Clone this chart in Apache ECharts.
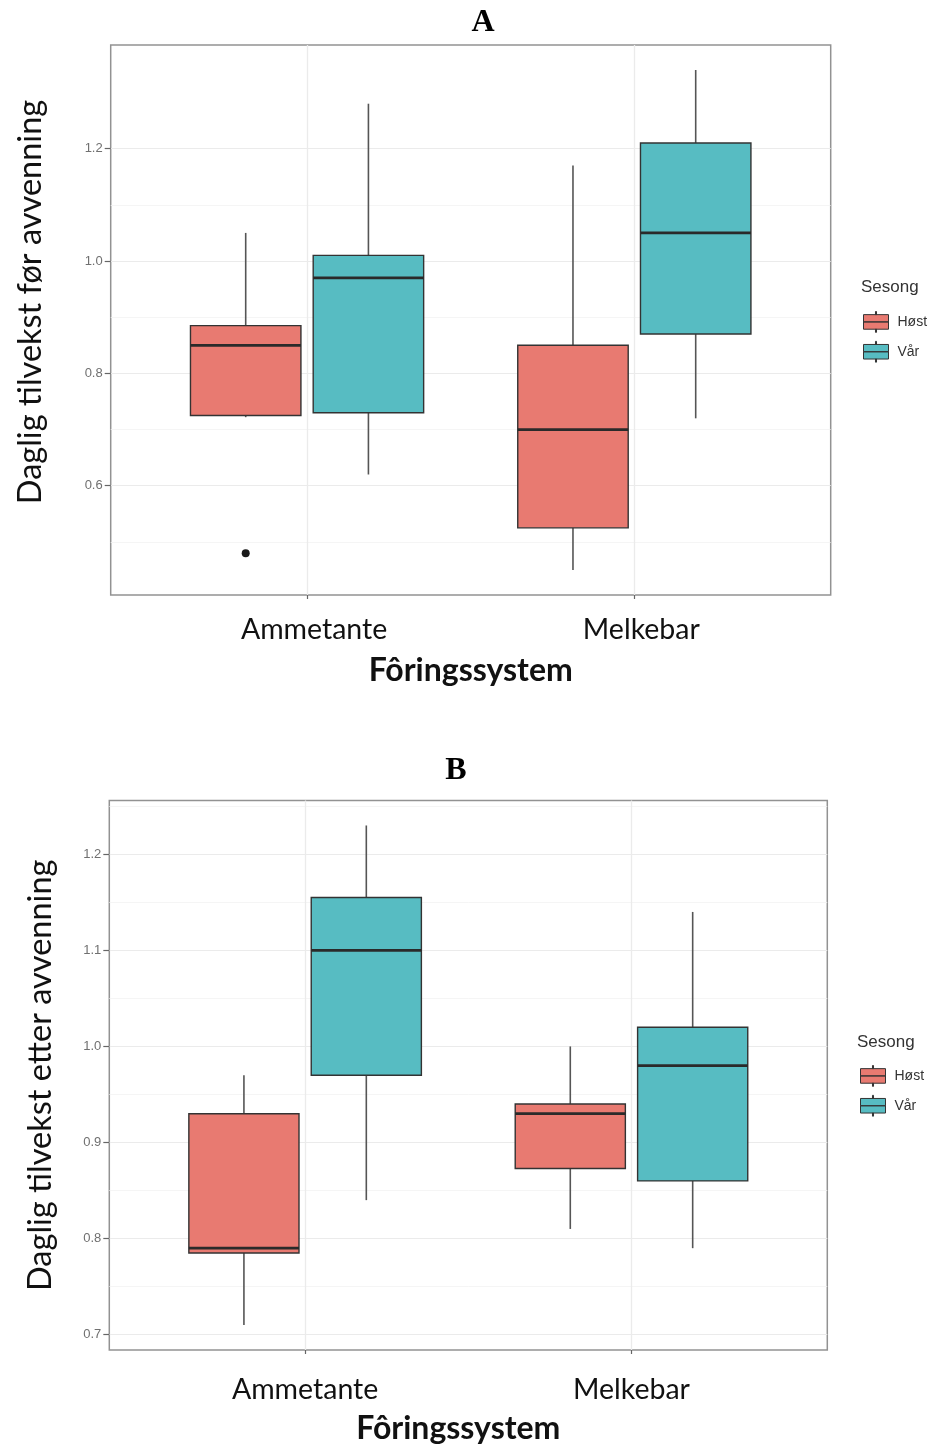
<!DOCTYPE html>
<html><head><meta charset="utf-8">
<script src="https://cdn.jsdelivr.net/npm/echarts@6/dist/echarts.min.js"></script>
<style>html,body{margin:0;padding:0;background:#fff}#c{width:937px;height:1447px}</style>
</head><body><div id="c"></div>
<script>
// ---- data ----
const categories = ['Ammetante', 'Melkebar'];
const seasons = ['Høst', 'Vår'];
// each row: [lower whisker, Q1, median, Q3, upper whisker]
const aHost = [[0.722, 0.725, 0.85, 0.885, 1.05], [0.45, 0.525, 0.70, 0.85, 1.17]];
const aVar  = [[0.62, 0.73, 0.97, 1.01, 1.28], [0.72, 0.87, 1.05, 1.21, 1.34]];
const aHostOutliers = [[0, 0.48]];   // [category index, value]
const bHost = [[0.71, 0.785, 0.79, 0.93, 0.97], [0.81, 0.873, 0.93, 0.94, 1.00]];
const bVar  = [[0.84, 0.97, 1.10, 1.155, 1.23], [0.79, 0.86, 0.98, 1.02, 1.14]];
const aYTicks = [0.6, 0.8, 1.0, 1.2];
const bYTicks = [0.7, 0.8, 0.9, 1.0, 1.1, 1.2];
const aYTitle = 'Daglig tilvekst før avvenning';
const bYTitle = 'Daglig tilvekst etter avvenning';
const xTitle = 'Fôringssystem';
const legendTitle = 'Sesong';

// ---- style ----
const COL = { 'Høst': '#E87A71', 'Vår': '#57BCC2' };
const GRID_COL = '#ebebeb';
const FONT = 'Lato';

function ext(rows, extra) {
  const vals = [];
  rows.forEach(r => r.forEach(v => vals.push(v)));
  (extra || []).forEach(p => vals.push(p[1]));
  const lo = Math.min(...vals), hi = Math.max(...vals), r = hi - lo;
  return [lo - 0.05 * r, hi + 0.05 * r];
}
const aExt = ext(aHost.concat(aVar), aHostOutliers);
const bExt = ext(bHost.concat(bVar), []);

// panel frames (plot area)
const frames = [
  { left: 110.7, top: 45, width: 720, height: 550 },
  { left: 109.3, top: 800.5, width: 718, height: 549.5 }
];
function boxGrid(f) {
  const unit = f.width / 2.2;
  return { left: f.left + 0.1 * unit, top: f.top, width: 2 * unit, height: f.height };
}

function boxRenderer(offset, color) {
  return function (params, api) {
    const cat = api.value(0);
    const band = api.size([1, 0])[0];
    const cx = api.coord([cat, api.value(3)])[0] + offset * band;
    const hw = 0.16875 * band;
    const y = i => api.coord([cat, api.value(i)])[1];
    const yLo = y(1), yQ1 = y(2), yMed = y(3), yQ3 = y(4), yHi = y(5);
    return {
      type: 'group', children: [
        { type: 'line', shape: { x1: cx, y1: yHi, x2: cx, y2: yQ3 }, style: { stroke: '#555', lineWidth: 1.6 } },
        { type: 'line', shape: { x1: cx, y1: yQ1, x2: cx, y2: yLo }, style: { stroke: '#555', lineWidth: 1.6 } },
        { type: 'rect', shape: { x: cx - hw, y: yQ3, width: 2 * hw, height: yQ1 - yQ3 }, style: { fill: color, stroke: '#333', lineWidth: 1.4 } },
        { type: 'line', shape: { x1: cx - hw, y1: yMed, x2: cx + hw, y2: yMed }, style: { stroke: '#2a2a2a', lineWidth: 2.8 } }
      ]
    };
  };
}
function outlierRenderer(offset) {
  return function (params, api) {
    const cat = api.value(0);
    const band = api.size([1, 0])[0];
    const p = api.coord([cat, api.value(1)]);
    return { type: 'circle', shape: { cx: p[0] + offset * band, cy: p[1], r: 4 }, style: { fill: '#1a1a1a' } };
  };
}
const toRows = rows => rows.map((r, i) => [i].concat(r));

function frameY(gi, e, ticks, name, gap, pad) {
  return {
    type: 'value', gridIndex: gi, min: e[0], max: e[1],
    minInterval: ticks[1] - ticks[0], maxInterval: ticks[1] - ticks[0], splitNumber: 5,
    axisLine: { show: false },
    axisTick: { show: true, customValues: ticks, length: 6, lineStyle: { color: '#666', width: 1.2 } },
    axisLabel: { customValues: ticks, formatter: v => v.toFixed(1), color: '#707070', fontSize: 13, fontFamily: 'Liberation Sans', margin: 8 },
    splitLine: { show: true, lineStyle: { color: GRID_COL, width: 1.2 } },
    minorTick: { show: false, splitNumber: 2 },
    minorSplitLine: { show: true, lineStyle: { color: '#f3f3f3', width: 0.8 } },
    name: name, nameLocation: 'middle', nameGap: gap, nameRotate: 90,
    nameTextStyle: { fontFamily: FONT, fontSize: 32.5, color: '#111', padding: pad }
  };
}
function boxX(gi, margin, gap, labelPad, namePad) {
  return {
    type: 'category', gridIndex: gi, data: categories,
    axisLine: { show: false },
    axisTick: { show: true, alignWithLabel: true, length: 4, lineStyle: { color: '#666', width: 1.2 } },
    axisLabel: { fontFamily: FONT, fontSize: 28.5, color: '#111', margin: margin, padding: labelPad },
    splitLine: { show: false },
    name: xTitle, nameLocation: 'middle', nameGap: gap,
    nameTextStyle: { fontFamily: FONT, fontWeight: 'bold', fontSize: 32, color: '#111', padding: namePad }
  };
}
function vLines() {
  return {
    silent: true, symbol: ['none', 'none'], label: { show: false }, animation: false,
    lineStyle: { color: GRID_COL, width: 1.3, type: 'solid' },
    data: categories.map(c => ({ xAxis: c }))
  };
}
const legendIcon = 'path://M11.5 0h1v3h-1z M0 3h24v7h-24z M0 10h24v7h-24z M11.5 17h1v3h-1z';
function legend(left, top) {
  return {
    orient: 'vertical', left: left, top: top, icon: legendIcon, itemWidth: 25, itemHeight: 21, itemGap: 8,
    selectedMode: false,
    textStyle: { fontFamily: 'Liberation Sans', fontSize: 14, color: '#333', padding: [0, 0, 0, 4] },
    data: seasons.map(s => ({ name: s, itemStyle: { color: COL[s], borderColor: '#333', borderWidth: 1 } }))
  };
}

const chart = echarts.init(document.getElementById('c'), null, { renderer: 'canvas' });
const gA = boxGrid(frames[0]), gB = boxGrid(frames[1]);
chart.setOption({
  animation: false,
  backgroundColor: '#fff',
  grid: [
    Object.assign({ show: true, borderColor: '#929292', borderWidth: 1.5, backgroundColor: '#fff' }, frames[0]),
    gA,
    Object.assign({ show: true, borderColor: '#929292', borderWidth: 1.5, backgroundColor: '#fff' }, frames[1]),
    gB
  ],
  xAxis: [
    { type: 'value', gridIndex: 0, min: 0, max: 1, show: false },
    boxX(1, 20, 60, [0, 0, 0, 14], [0, 0, 0, 0]),
    { type: 'value', gridIndex: 2, min: 0, max: 1, show: false },
    boxX(3, 25, 63, [0, 0, 0, 0], [0, 20, 0, 0])
  ],
  yAxis: [
    frameY(0, aExt, aYTicks, aYTitle, 64, [0, 0, 0, 36]),
    { type: 'value', gridIndex: 1, min: aExt[0], max: aExt[1], show: false },
    frameY(2, bExt, bYTicks, bYTitle, 52, [0, 0, 0, 0]),
    { type: 'value', gridIndex: 3, min: bExt[0], max: bExt[1], show: false }
  ],
  legend: [legend(858, 306), legend(855, 1060)],
  graphic: [
    { type: 'text', x: 483, y: 23, style: { text: 'A', textAlign: 'center', textVerticalAlign: 'middle', font: 'bold 32px "Liberation Serif"', fill: '#000' } },
    { type: 'text', x: 456, y: 771, style: { text: 'B', textAlign: 'center', textVerticalAlign: 'middle', font: 'bold 32px "Liberation Serif"', fill: '#000' } },
    { type: 'text', x: 861, y: 287, style: { text: legendTitle, textAlign: 'left', textVerticalAlign: 'middle', font: '17px "Liberation Sans"', fill: '#333' } },
    { type: 'text', x: 857, y: 1042, style: { text: legendTitle, textAlign: 'left', textVerticalAlign: 'middle', font: '17px "Liberation Sans"', fill: '#333' } }
  ],
  series: [
    { type: 'custom', name: 'Høst', xAxisIndex: 1, yAxisIndex: 1, renderItem: boxRenderer(-0.1875, COL['Høst']),
      data: toRows(aHost), encode: { x: 0, y: [1, 2, 3, 4, 5] }, itemStyle: { color: COL['Høst'] }, markLine: vLines() },
    { type: 'custom', name: 'Vår', xAxisIndex: 1, yAxisIndex: 1, renderItem: boxRenderer(0.1875, COL['Vår']),
      data: toRows(aVar), encode: { x: 0, y: [1, 2, 3, 4, 5] }, itemStyle: { color: COL['Vår'] } },
    { type: 'custom', name: 'Høst', xAxisIndex: 1, yAxisIndex: 1, renderItem: outlierRenderer(-0.1875),
      data: aHostOutliers, encode: { x: 0, y: 1 }, itemStyle: { color: COL['Høst'] } },
    { type: 'custom', name: 'Høst', xAxisIndex: 3, yAxisIndex: 3, renderItem: boxRenderer(-0.1875, COL['Høst']),
      data: toRows(bHost), encode: { x: 0, y: [1, 2, 3, 4, 5] }, itemStyle: { color: COL['Høst'] }, markLine: vLines() },
    { type: 'custom', name: 'Vår', xAxisIndex: 3, yAxisIndex: 3, renderItem: boxRenderer(0.1875, COL['Vår']),
      data: toRows(bVar), encode: { x: 0, y: [1, 2, 3, 4, 5] }, itemStyle: { color: COL['Vår'] } }
  ]
});
</script></body></html>
